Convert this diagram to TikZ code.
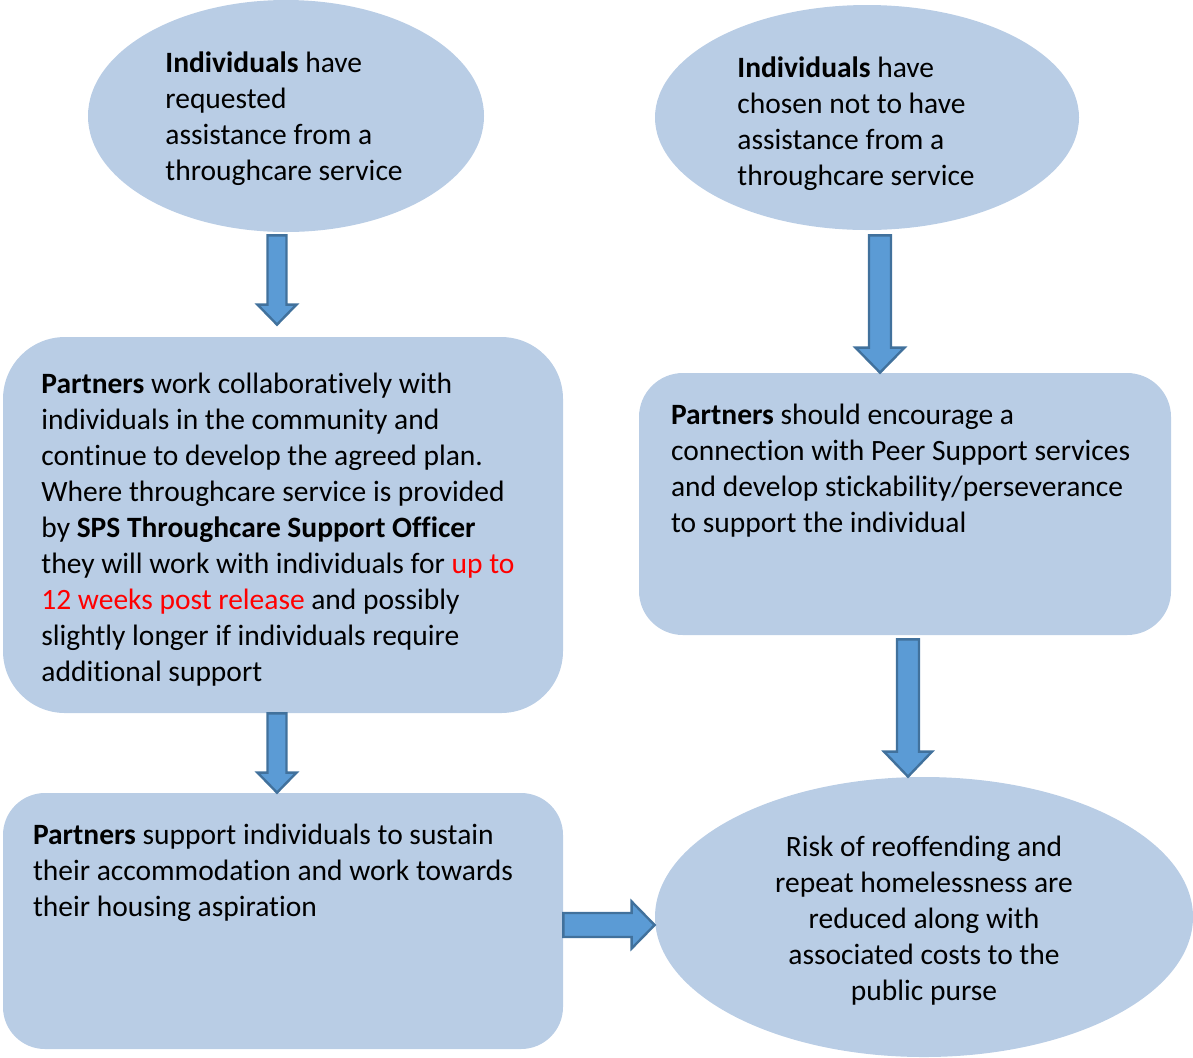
\documentclass[tikz,border=0pt]{standalone}
\usepackage{fontspec}
\setmainfont{Carlito}[Ligatures=NoCommon]
\usetikzlibrary{shapes.geometric,calc}
\definecolor{shapefill}{HTML}{B9CDE5}
\definecolor{arrowfill}{HTML}{5B9BD5}
\definecolor{arrowline}{HTML}{41719C}

% vertical block arrow: start, end, shaft half, head half, head length
\newcommand{\vblockarrow}[5]{%
  \draw[blockarrow] let \p1=#1, \p2=#2 in
    (\x1-#3,\y1) -- (\x1+#3,\y1) -- (\x1+#3,\y2+#5) -- (\x1+#4,\y2+#5)
    -- (\x1,\y2) -- (\x1-#4,\y2+#5) -- (\x1-#3,\y2+#5) -- cycle;}
% horizontal block arrow
\newcommand{\hblockarrow}[5]{%
  \draw[blockarrow] let \p1=#1, \p2=#2 in
    (\x1,\y1+#3) -- (\x1,\y1-#3) -- (\x2-#5,\y1-#3) -- (\x2-#5,\y1-#4)
    -- (\x2,\y1) -- (\x2-#5,\y1+#4) -- (\x2-#5,\y1+#3) -- cycle;}

\begin{document}
\begin{tikzpicture}[x=0.5pt,y=-0.5pt,
  bubble/.style={ellipse,fill=shapefill,inner sep=0pt},
  panel/.style={rectangle,fill=shapefill,inner sep=0pt},
  blockarrow/.style={fill=arrowfill,draw=arrowline,line width=1.2pt,line join=miter},
  txt/.style={inner sep=0pt,align=left,font=\fontsize{14.75pt}{18pt}\selectfont}]
\useasboundingbox (0,0) rectangle (1193,1057);

% shapes
\node[bubble,minimum width=198pt,minimum height=116pt] (ask) at (286,116) {};
\node[bubble,minimum width=212pt,minimum height=112.5pt] (decline) at (867,117.5) {};
\node[panel,rounded corners=31pt,minimum width=280pt,minimum height=188pt] (plan) at (283,525) {};
\node[panel,rounded corners=22pt,minimum width=266pt,minimum height=131pt] (peer) at (905,504) {};
\node[panel,rounded corners=21pt,minimum width=280pt,minimum height=128pt] (sustain) at (283,921) {};
\begin{scope}
  \clip (0,0) rectangle (1193,1057);
  \node[bubble,minimum width=269pt,minimum height=140pt] (risk) at (924,917) {};
\end{scope}

% texts
\node[txt,anchor=west] (askt) at ($(ask.center)+(-121,3)$)
  {\textbf{Individuals} have\\requested\\assistance from a\\throughcare service};
\node[txt,anchor=west] (declinet) at ($(decline.center)+(-130,6)$)
  {\textbf{Individuals} have\\chosen not to have\\assistance from a\\throughcare service};
\node[txt,anchor=west] (plant) at ($(plan.center)+(-242,5)$)
  {\textbf{Partners} work collaboratively with\\individuals in the community and\\continue to develop the agreed plan.\\Where throughcare service is provided\\by \textbf{SPS Throughcare Support Officer}\\they will work with individuals for \textcolor{red}{up to}\\\textcolor{red}{12 weeks post release} and possibly\\slightly longer if individuals require\\additional support};
\node[txt,anchor=north west] (peert) at ($(peer.north west)+(32,31)$)
  {\textbf{Partners} should encourage a\\connection with Peer Support services\\and develop stickability/perseverance\\to support the individual};
\node[txt,anchor=north west] (sustaint) at ($(sustain.north west)+(30,31)$)
  {\textbf{Partners} support individuals to sustain\\their accommodation and work towards\\their housing aspiration};
\node[txt,align=center] (riskt) at ($(risk.center)+(0,4)$)
  {Risk of reoffending and\\repeat homelessness are\\reduced along with\\associated costs to the\\public purse};

% arrows
\vblockarrow{($(ask.south)+(-9,3)$)}{($(plan.north)+(-6,-12)$)}{4.75pt}{9.75pt}{10pt}
\vblockarrow{($(plan.south)+(-6,0)$)}{($(sustain.north)+(-6,0)$)}{4.75pt}{9.75pt}{10pt}
\vblockarrow{($(decline.south)+(13,5)$)}{($(peer.north)+(-25,0)$)}{5.5pt}{12.25pt}{12.5pt}
\vblockarrow{($(peer.south)+(3,4)$)}{($(risk.north)+(-16,0)$)}{5.5pt}{12pt}{12.5pt}
\hblockarrow{($(sustain.east)+(0,4)$)}{($(risk.west)+(0,8)$)}{6pt}{11.75pt}{11.5pt}
\end{tikzpicture}
\end{document}
